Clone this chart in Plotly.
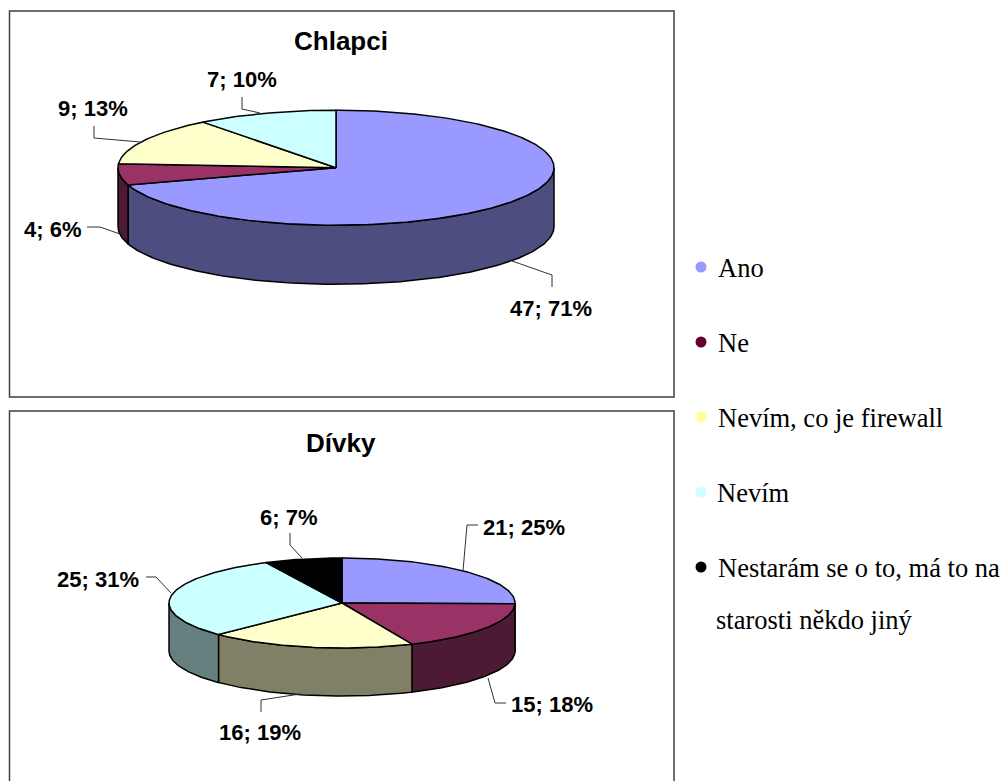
import numpy as np
import plotly.graph_objects as go

# Survey answers per group; the percentages are the printed label values
categories = ["Ano", "Ne", "Nevím, co je firewall", "Nevím",
              "Nestarám se o to, má to na starosti někdo jiný"]
chlapci_counts = [47, 4, 9, 7, 0]
chlapci_percent = [71, 6, 13, 10, 0]
divky_counts = [21, 15, 16, 25, 6]
divky_percent = [25, 18, 19, 31, 7]

# Slice colours: top face, side wall, legend dot
TOP = ["#9999FF", "#993366", "#FFFFCC", "#CCFFFF", "#000000"]
WALL = ["#4D4D80", "#4D1A33", "#808066", "#668080", "#000000"]
DOT = ["#9999FF", "#660033", "#FFFF99", "#CCFFFF", "#000000"]

# Pie geometry in page pixels: centre, radii and extrusion
PIES = {
    "Chlapci": dict(cx=336, cy=167.7, a=218, b=57.5, depth=59,
                    title_xy=(341, 41)),
    "Dívky": dict(cx=342, cy=603, a=173, b=45, depth=48,
                  title_xy=(341, 443)),
}

# Label anchors and leader polylines, one per slice
CHLAPCI_LABELS = [(551, 308), (52, 229), (93, 108), (242, 79)]
CHLAPCI_LEADERS = [
    [(512, 261), (552, 275), (552, 287)],
    [(87, 227), (100, 227), (120, 234)],
    [(94, 126), (94, 138), (140, 142)],
    [(242, 97), (242, 109), (260, 113)],
]
DIVKY_LABELS = [(524, 527), (552, 704), (260, 732), (98, 579), (288, 517)]
DIVKY_LEADERS = [
    [(478, 525), (467, 525), (463, 571)],
    [(506, 703), (495, 703), (488, 678)],
    [(261, 712), (261, 700), (300, 694)],
    [(146, 577), (156, 577), (171, 593)],
    [(290, 533), (290, 545), (302, 558)],
]

LEGEND_Y = [267, 342, 417, 492, 567]
LEGEND_LINES = ["Ano", "Ne", "Nevím, co je firewall", "Nevím",
                "Nestarám se o to, má to na"]
LEGEND_X = [716, 716, 716, 715, 716]
SERIF = dict(family="Liberation Serif", size=26.5, color="#000000")
OUTLINE = dict(color="#000000", width=1.5)

fig = go.Figure()


def rim(p, t0, t1):
    """Points along the top rim, angle in degrees clockwise from 12 o'clock."""
    t = np.radians(np.linspace(t0, t1, max(2, int(abs(t1 - t0)) + 2)))
    return p["cx"] + p["a"] * np.sin(t), p["cy"] - p["b"] * np.cos(t)


def add_pie(p, counts):
    edges = np.cumsum([0] + counts) / sum(counts) * 360
    # Side walls on the near half of the disc
    for i, v in enumerate(counts):
        lo, hi = max(edges[i], 90), min(edges[i + 1], 270)
        if v == 0 or hi <= lo:
            continue
        x, y = rim(p, lo, hi)
        fig.add_trace(go.Scatter(
            x=np.r_[x, x[::-1], x[0]],
            y=np.r_[y, y[::-1] + p["depth"], y[0]],
            mode="lines", fill="toself", fillcolor=WALL[i], line=OUTLINE,
            hoverinfo="skip", showlegend=False))
    # Top faces
    for i, v in enumerate(counts):
        if v == 0:
            continue
        x, y = rim(p, edges[i], edges[i + 1])
        fig.add_trace(go.Scatter(
            x=np.r_[p["cx"], x, p["cx"]],
            y=np.r_[p["cy"], y, p["cy"]],
            mode="lines", fill="toself", fillcolor=TOP[i], line=OUTLINE,
            name=categories[i], hoverinfo="skip", showlegend=False))


def add_labels(counts, percents, anchors, leaders):
    visible = [(c, q) for c, q in zip(counts, percents) if c > 0]
    for (c, q), (ax, ay), path in zip(visible, anchors, leaders):
        fig.add_trace(go.Scatter(
            x=[pt[0] for pt in path], y=[pt[1] for pt in path],
            mode="lines", line=dict(color="#303030", width=1),
            hoverinfo="skip", showlegend=False))
        fig.add_annotation(x=ax, y=ay, text=f"<b>{c}; {q}%</b>", showarrow=False,
                           font=dict(family="Liberation Sans", size=22, color="#000000"))


add_pie(PIES["Chlapci"], chlapci_counts)
add_pie(PIES["Dívky"], divky_counts)
add_labels(chlapci_counts, chlapci_percent, CHLAPCI_LABELS, CHLAPCI_LEADERS)
add_labels(divky_counts, divky_percent, DIVKY_LABELS, DIVKY_LEADERS)

for name, p in PIES.items():
    fig.add_annotation(x=p["title_xy"][0], y=p["title_xy"][1], text=f"<b>{name}</b>",
                       showarrow=False,
                       font=dict(family="Liberation Sans", size=26, color="#000000"))

# Legend column: dots and serif captions
fig.add_trace(go.Scatter(
    x=[701] * len(LEGEND_Y), y=LEGEND_Y, mode="markers",
    marker=dict(size=11, color=DOT, line=dict(width=0)),
    hoverinfo="skip", showlegend=False))
for line, x, y in zip(LEGEND_LINES, LEGEND_X, LEGEND_Y):
    fig.add_annotation(x=x, y=y + 1, text=line, xanchor="left", showarrow=False, font=SERIF)
fig.add_annotation(x=714, y=620, text="starosti někdo jiný", xanchor="left", showarrow=False,
                   font=SERIF)

# Panel frames; the lower one runs past the bottom of the page
for y0, y1 in [(11, 397), (411, 800)]:
    fig.add_shape(type="rect", x0=9.5, x1=674, y0=y0, y1=y1,
                  line=dict(color="#404040", width=1.5), layer="below")

fig.update_xaxes(range=[0, 1004], visible=False, fixedrange=True)
fig.update_yaxes(range=[781, 0], visible=False, fixedrange=True)
fig.update_layout(width=1004, height=781, margin=dict(l=0, r=0, t=0, b=0),
                  paper_bgcolor="#FFFFFF", plot_bgcolor="#FFFFFF")

fig.write_html("out.html", config={"displayModeBar": False})
